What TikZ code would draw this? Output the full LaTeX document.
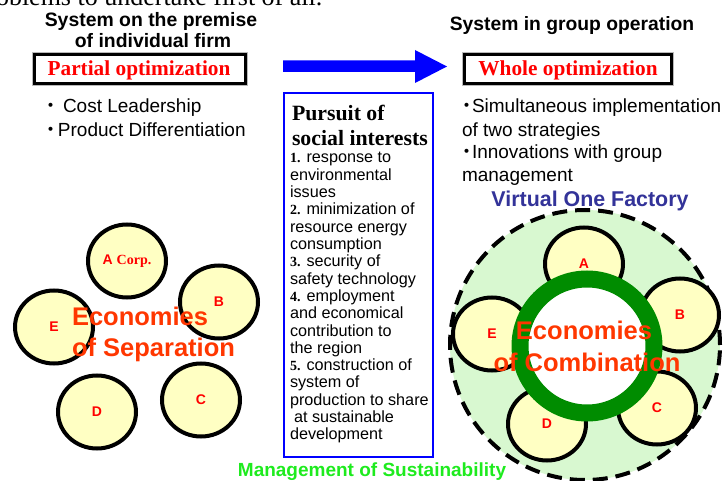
\documentclass[tikz,border=0pt]{standalone}
\usepackage{fontspec}
\setmainfont{Liberation Serif}
\setsansfont{Liberation Sans}
\newfontfamily\cjk{Noto Sans CJK JP}
\usetikzlibrary{shapes.geometric}
\definecolor{ecored}{RGB}{255,55,0}
\definecolor{firmfill}{RGB}{255,255,195}
\definecolor{vofill}{RGB}{216,248,208}
\definecolor{ringgreen}{RGB}{0,140,0}
\definecolor{sustgreen}{RGB}{30,235,30}
\definecolor{vofblue}{RGB}{51,51,153}
\definecolor{arrowblue}{RGB}{0,0,255}
\newcommand\myfs[2]{\fontsize{#1}{#2}\selectfont}
\begin{document}
\begin{tikzpicture}[x=1pt,y=-1pt,
  every node/.style={inner sep=0pt, outer sep=0pt},
  firm/.style={ellipse, draw=black, line width=4pt, fill=firmfill, minimum width=78pt, minimum height=73pt, text=red, font=\sffamily\bfseries\myfs{14}{14}},
  title/.style={font=\sffamily\bfseries\myfs{19.4}{22}, anchor=base},
  optbox/.style={draw=black, line width=3pt, fill=white, minimum width=211pt, minimum height=29pt},
  optshade/.style={draw=gray!55, line width=1pt, minimum width=215pt, minimum height=33pt},
  opttext/.style={text=red, font=\rmfamily\bfseries\myfs{21.3}{21.3}, anchor=base},
  bullet/.style={font=\sffamily\myfs{19}{23}, anchor=base west},
  eco/.style={font=\sffamily\bfseries\myfs{25.5}{31}, text=ecored, anchor=base},
  item/.style={font=\sffamily\myfs{16.2}{17}, anchor=base west},
]
\useasboundingbox (0,0) rectangle (726,481);
\fill[white] (0,0) rectangle (726,481);

% clipped line at the top
\node[anchor=base west, font=\rmfamily\myfs{26}{26}] (cut) at (-4,6) {oblems to undertake first of all.};

% left titles
\node[title] (lt1) at (151,27) {System on the premise};
\node[title] (lt2) at (153,48) {of individual firm};
\node[optshade] (pshade) at (140,69) {};
\node[optbox] (pbox) at (140,69) {};
\node[opttext] (ptext) at (139,76) {Partial optimization};
\node[bullet] (lb1) at (41,113) {{\cjk ・}\hspace{3pt}Cost Leadership};
\node[bullet] (lb2) at (41,137) {{\cjk ・}\hspace{-2pt}Product Differentiation};

% arrow
\fill[arrowblue] (283,60.5) -- (415,60.5) -- (415,50) -- (447,66.5) -- (415,83) -- (415,72) -- (283,72) -- cycle;

% right titles
\node[title, font=\sffamily\bfseries\myfs{19.3}{22}] (rt1) at (572,31) {System in group operation};
\node[optshade, minimum width=211pt] (wshade) at (568,69) {};
\node[optbox, minimum width=207pt] (wbox) at (568,69) {};
\node[opttext] (wtext) at (568,76) {Whole optimization};
\node[bullet] (rb1) at (457,113) {{\cjk ・}\hspace{-4pt}Simultaneous implementation};
\node[bullet] (rb2) at (462,137) {of two strategies};
\node[bullet] (rb3) at (457,159) {{\cjk ・}\hspace{-4pt}Innovations with group};
\node[bullet] (rb4) at (462,182) {management};
\node[anchor=base, font=\sffamily\bfseries\myfs{21.4}{21.4}, text=vofblue] (vof) at (590,207) {Virtual One Factory};

% social interests box
\node[draw=arrowblue, line width=2pt, minimum width=149pt, minimum height=364pt, anchor=north west] (soc) at (284,93) {};
\node[anchor=base west, font=\rmfamily\bfseries\myfs{21.8}{21.8}] (st1) at (292,121) {Pursuit of};
\node[anchor=base west, font=\rmfamily\bfseries\myfs{21.8}{21.8}] (st2) at (292,146) {social interests};
\foreach \t [count=\i] in {
  {{\rmfamily\bfseries\myfs{14}{14}1.} response to},
  {environmental},
  {issues},
  {{\rmfamily\bfseries\myfs{14}{14}2.} minimization of},
  {resource energy},
  {consumption},
  {{\rmfamily\bfseries\myfs{14}{14}3.} security of},
  {safety technology},
  {{\rmfamily\bfseries\myfs{14}{14}4.} employment},
  {and economical},
  {contribution to},
  {the region},
  {{\rmfamily\bfseries\myfs{14}{14}5.} construction of},
  {system of},
  {production to share},
  {\hspace{4pt}at sustainable},
  {development}}
  \node[item] (li\i) at (290,{163+(\i-1)*17.3}) {\t};

% left firms
\node[firm] (lA) at (127,261) {A {\rmfamily Corp.}};
\node[firm] (lB) at (219,302) {B};
\node[firm] (lC) at (201,400) {C};
\node[firm] (lD) at (97,412) {D};
\node[firm] (lE) at (54,327) {E};
\node[eco, anchor=base west] (es1) at (72,326) {Economies};
\node[eco, anchor=base west] (es2) at (72,356) {of Separation};

% virtual one factory
\node[circle, draw=black, line width=4pt, dash pattern=on 15pt off 8pt, fill=vofill, minimum size=270pt] (vofc) at (585,345) {};
\node[firm] (rA) at (584,264) {A};
\node[firm] (rB) at (680,315) {B};
\node[firm] (rC) at (657,408) {C};
\node[firm] (rD) at (547,424) {D};
\node[firm] (rE) at (492,334) {E};
\node[circle, draw=ringgreen, line width=17pt, fill=white, minimum size=134pt] (ring) at (587,346) {};
\node[eco] (ec1) at (584,339) {Economies};
\node[eco] (ec2) at (587,371) {of Combination};

\node[anchor=base, font=\sffamily\bfseries\myfs{19}{19}, text=sustgreen] (mos) at (372,476) {Management of Sustainability};
\end{tikzpicture}
\end{document}
